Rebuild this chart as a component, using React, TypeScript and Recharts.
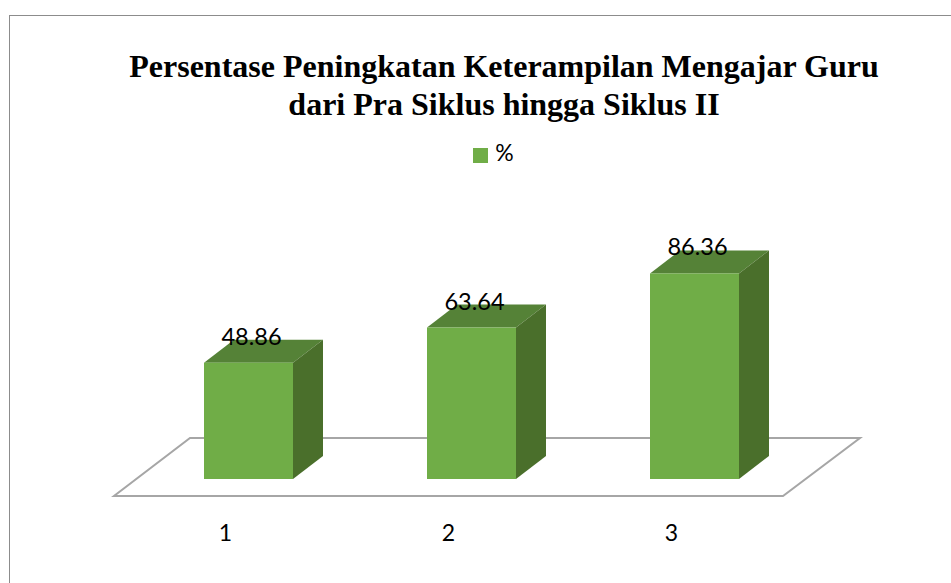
import { BarChart, Bar, XAxis, YAxis, Legend, LabelList, usePlotArea } from "recharts";

const categories = ["1", "2", "3"];
const percentValues = [48.86, 63.64, 86.36];
const titleLines = [
  "Persentase Peningkatan Keterampilan Mengajar Guru",
  "dari Pra Siklus hingga Siklus II",
];

const chartData = categories.map((c, i) => ({ name: c, value: percentValues[i] }));

const labelFont = "Lato, 'Open Sans', sans-serif";

// fake 3D column, front face comes from the bar scale
const DEPTH_X = 30;
const DEPTH_Y = 23;

const Column3D = (props: any) => {
  const { x, y, width, height } = props;
  return (
    <g>
      <polygon
        points={`${x},${y} ${x + DEPTH_X},${y - DEPTH_Y} ${x + width + DEPTH_X},${y - DEPTH_Y} ${x + width},${y}`}
        fill="#558237"
      />
      <polygon
        points={`${x + width},${y} ${x + width + DEPTH_X},${y - DEPTH_Y} ${x + width + DEPTH_X},${y + height - DEPTH_Y} ${x + width},${y + height}`}
        fill="#4a6f2b"
      />
      <rect x={x} y={y} width={width} height={height} fill="#70ad47" />
    </g>
  );
};

// floor of the 3D box, placed relative to the plot area
const Floor = () => {
  const plot = usePlotArea();
  if (!plot) return null;
  const left = plot.x;
  const right = plot.x + plot.width;
  const bottom = plot.y + plot.height;
  return (
    <polygon
      points={`${left - 23},${bottom + 17} ${right - 23},${bottom + 17} ${right + 54},${bottom - 41} ${left + 53},${bottom - 41}`}
      fill="none"
      stroke="#a6a6a6"
      strokeWidth={2}
    />
  );
};

const Title = () => (
  <text
    textAnchor="middle"
    fontFamily="'Liberation Serif', serif"
    fontWeight="bold"
    fontSize={32}
    fill="#000"
  >
    {titleLines.map((line, i) => (
      <tspan key={line} x={504} y={77 + i * 38}>
        {line}
      </tspan>
    ))}
  </text>
);

const CategoryTick = (props: any) => {
  const { x, y, payload } = props;
  return (
    <text x={x - 23} y={y + 54} textAnchor="middle" fontFamily={labelFont} fontSize={23} fill="#000">
      {payload.value}
    </text>
  );
};

export default function App() {
  return (
    <div style={{ position: "absolute", left: 0, top: 0, width: 951, height: 583, background: "#fff", overflow: "hidden" }}>
      <div
        style={{
          position: "absolute",
          left: 9,
          top: 15,
          width: 942,
          height: 568,
          borderTop: "1px solid #8c8c8c",
          borderLeft: "1px solid #8c8c8c",
        }}
      />
      <div style={{ position: "absolute", left: 0, top: 0 }}>
        <BarChart
          width={951}
          height={583}
          data={chartData}
          margin={{ top: 241, right: 145, bottom: 74, left: 137 }}
          barSize={89}
        >
          <Title />
          <Floor />
          <XAxis dataKey="name" axisLine={false} tickLine={false} height={30} tick={<CategoryTick />} />
          <YAxis hide domain={[0, 100]} />
          <Legend
            verticalAlign="middle"
            align="center"
            iconType="square"
            iconSize={15}
            wrapperStyle={{ top: 138, left: 23, width: 951, fontFamily: labelFont, fontSize: 23 }}
            formatter={(v: string) => <span style={{ color: "#000", marginLeft: 3 }}>{v}</span>}
          />
          <Bar dataKey="value" name="%" fill="#70ad47" shape={<Column3D />} isAnimationActive={false}>
            <LabelList
              dataKey="value"
              position="top"
              offset={18}
              dx={3}
              fontFamily={labelFont}
              fontSize={23.5}
              fill="#000"
            />
          </Bar>
        </BarChart>
      </div>
    </div>
  );
}
